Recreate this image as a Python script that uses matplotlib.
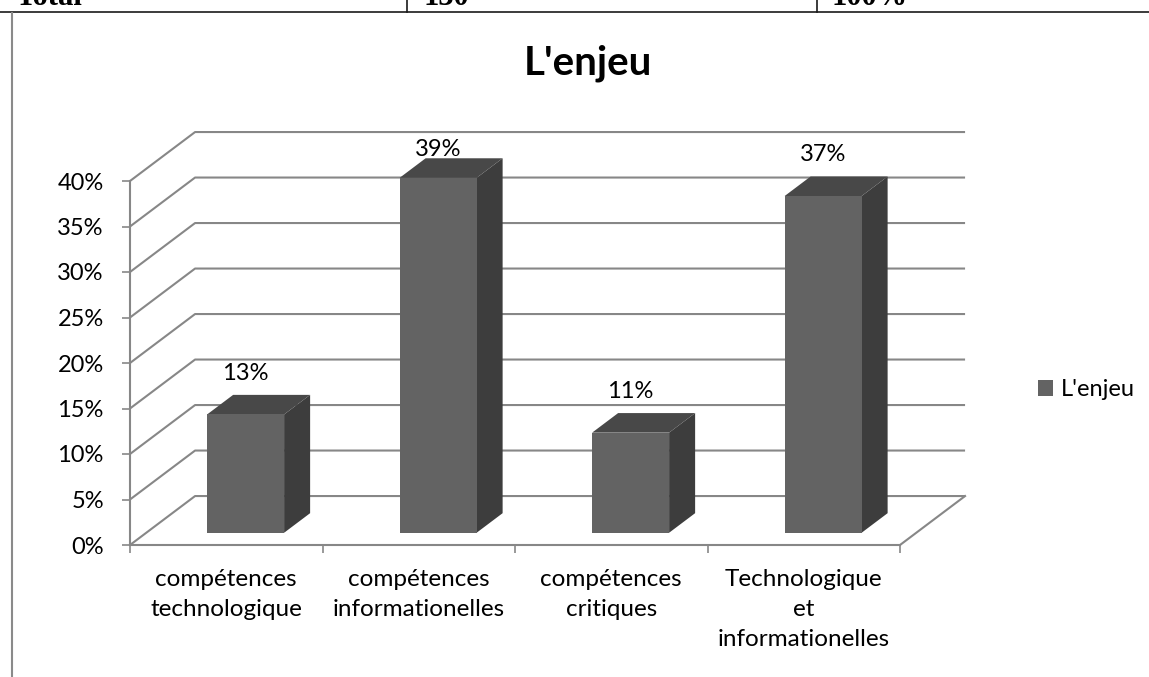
import matplotlib.pyplot as plt
import matplotlib.ticker as ticker
from matplotlib.patches import Polygon, Patch

categories = ["compétences\ntechnologique", "compétences\ninformationelles",
              "compétences\ncritiques", "Technologique\net\ninformationelles"]
values = [13, 39, 11, 37]
value_labels = ["13%", "39%", "11%", "37%"]
series_name = "L'enjeu"
title = "L'enjeu"
y_ticks = [0, 5, 10, 15, 20, 25, 30, 35, 40]
table_cells = ["Total", "130", "100%"]

W, H = 1149, 677
plt.rcParams['font.family'] = ['Lato', 'DejaVu Sans']
fig = plt.figure(figsize=(W / 100, H / 100), dpi=100)

# front plane of the chart, in data units: x = category, y = percent
ax = fig.add_axes([130 / W, 1 - 545 / H, 770 / W, 364 / H])
ax.set_xlim(0, 4)
ax.set_ylim(0, 40)
ax.patch.set_visible(False)

DX, DY = 0.338, 5.38        # depth of the floor, data units
F1, F2 = 0.25, 0.65         # front / back of the columns as part of depth
BAR_OFF, BAR_W = 0.316, 0.4
grid_c = '#878787'
front_c, top_c, side_c = '#636363', '#484848', '#3d3d3d'


def shift(x, y, f):
    return (x + f * DX, y + f * DY)


# walls: gridlines going back from the front axis
for v in y_ticks:
    ax.plot([0, DX, 4 + DX], [v, v + DY, v + DY], color=grid_c, lw=1.5,
            clip_on=False, zorder=1, solid_capstyle='butt')
ax.plot([4, 4 + DX], [0, DY], color=grid_c, lw=1.5, clip_on=False, zorder=1)

# columns
for i, v in enumerate(values):
    x0 = i + BAR_OFF
    x1 = x0 + BAR_W
    front = [shift(x0, 0, F1), shift(x1, 0, F1), shift(x1, v, F1), shift(x0, v, F1)]
    top = [shift(x0, v, F1), shift(x1, v, F1), shift(x1, v, F2), shift(x0, v, F2)]
    side = [shift(x1, 0, F1), shift(x1, 0, F2), shift(x1, v, F2), shift(x1, v, F1)]
    for pts, c in [(side, side_c), (top, top_c), (front, front_c)]:
        ax.add_patch(Polygon(pts, closed=True, facecolor=c, edgecolor='none',
                             clip_on=False, zorder=3))
    lx = x0 + BAR_W / 2 + F1 * DX
    ly = min(v + F2 * DY + 2.4, 43.5)
    ax.text(lx, ly, value_labels[i], ha='center', va='center', fontsize=17,
            color='black', zorder=5, clip_on=False)

# axes
for s in ['top', 'right']:
    ax.spines[s].set_visible(False)
for s in ['left', 'bottom']:
    ax.spines[s].set_color(grid_c)
    ax.spines[s].set_linewidth(1.5)
    ax.spines[s].set_zorder(2)

ax.set_yticks(y_ticks)
ax.yaxis.set_major_formatter(ticker.FuncFormatter(lambda v, p: f'{int(v)}%'))
ax.tick_params(axis='y', length=5.8, width=1.2, color=grid_c, labelsize=17,
               pad=13, labelcolor='black')

ax.set_xticks(range(5))
ax.set_xticklabels([])
ax.set_xticks([i + 0.5 for i in range(4)], minor=True)
ax.set_xticklabels(categories, minor=True, fontsize=17.5, linespacing=1.55)
ax.tick_params(axis='x', which='major', length=5.8, width=1.2, color=grid_c)
ax.tick_params(axis='x', which='minor', length=0, pad=17, labelcolor='black')

# title and legend
fig.text(588 / W, 1 - 75 / H, title, ha='center', va='baseline',
         fontsize=29, fontweight='bold', color='black')
fig.legend(handles=[Patch(facecolor=front_c, edgecolor='none', label=series_name)],
           loc='center left', bbox_to_anchor=(1038 / W, 1 - 390 / H),
           frameon=False, fontsize=17, handlelength=0.65, handleheight=0.65,
           handletextpad=0.3, borderpad=0, borderaxespad=0)

# top of the page: end of the table above the chart, and the left border
fig.add_artist(plt.Line2D([0, 1], [1 - 12 / H] * 2, color='#1a1a1a', lw=1.2))
for xp in [407, 817]:
    fig.add_artist(plt.Line2D([xp / W] * 2, [1, 1 - 12 / H], color='#1a1a1a', lw=1.2))
fig.add_artist(plt.Line2D([12 / W] * 2, [1 - 13 / H, 0], color='#8a8a8a', lw=1.5))
for xp, txt in zip([15, 423, 832], table_cells):
    fig.text(xp / W, 1 - 5 / H, txt, ha='left', va='baseline', fontsize=22,
             fontweight='bold', family='Liberation Serif', color='black')

fig.savefig('out.png', dpi=100, facecolor='white')
